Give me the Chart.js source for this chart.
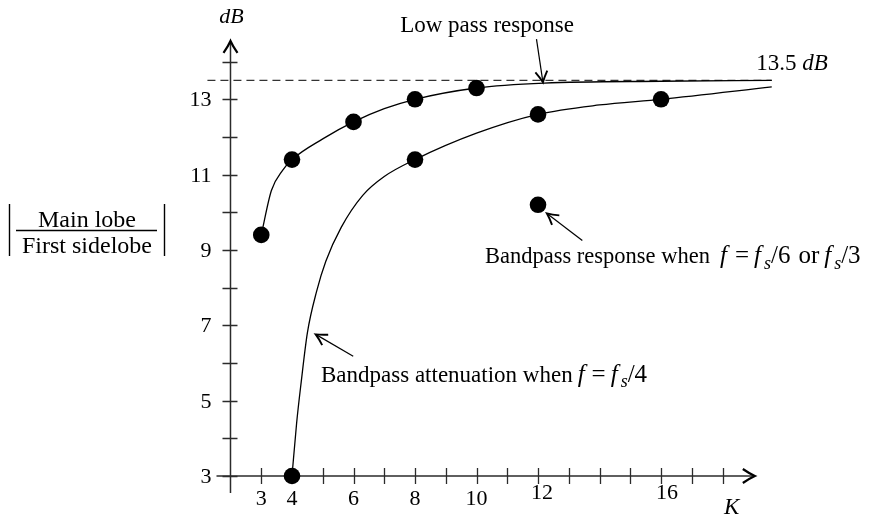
<!DOCTYPE html>
<html>
<head>
<meta charset="utf-8">
<script src="https://cdn.jsdelivr.net/npm/chart.js@4.4.1/dist/chart.umd.min.js"></script>
<style>
  html, body { margin: 0; padding: 0; background: #ffffff; }
  #wrap { width: 872px; height: 524px; position: relative; }
</style>
</head>
<body>
<div id="wrap"><canvas id="chart"></canvas></div>
<script>
// Measured ratios |main lobe / first sidelobe| (dB) against K
const lowPassK = [3, 4, 6, 8, 10];
const lowPassDb = [9.4, 11.4, 12.4, 13.0, 13.3];

const bpQuarterK = [4, 8, 12, 16];          // bandpass, f = fs/4
const bpQuarterDb = [3.0, 11.4, 12.6, 13.0];

const bpSixthK = [12];                      // bandpass, f = fs/6 or fs/3
const bpSixthDb = [10.2];

// Smooth trend curves through the measurements
const lowPassCurveK = [3, 3.33, 3.7, 4, 5, 6, 7, 8, 10, 12.2, 16, 19.6];
const lowPassCurveDb = [9.4, 10.58, 11.12, 11.4, 11.95, 12.4, 12.75, 13.0, 13.3, 13.43, 13.48, 13.5];

const bpCurveK = [4, 4.15, 4.3, 4.5, 4.8, 5.1, 5.6, 6.3, 7, 8, 10, 12, 14, 16, 19.6];
const bpCurveDb = [3.0, 4.4, 5.5, 6.8, 7.9, 8.7, 9.6, 10.45, 10.95, 11.4, 12.1, 12.6, 12.85, 13.0, 13.33];

// Asymptotic low pass limit
const refLevelDb = 13.5;
const refLineK = [1.25, 19.6];

// Axis ticks
const xTicks = [3, 4, 5, 6, 7, 8, 9, 10, 11, 12, 13, 14, 15, 16, 17, 18];
const xTickLabels = [3, 4, 6, 8, 10, 12, 16];
const yTicks = [3, 4, 5, 6, 7, 8, 9, 10, 11, 12, 13, 14];
const yTickLabels = [3, 5, 7, 9, 11, 13];

const SERIF = '"Liberation Serif", "Times New Roman", serif';
const INK = '#000000';
const AXIS_INK = '#2b2b2b';

const pts = (xs, ys) => xs.map((x, i) => ({ x: x, y: ys[i] }));

// Draws a run of text made of pieces with their own style
// (italic, subscript, own size) and fixed gaps between them
function richText(ctx, parts, x, y, size, align) {
  const items = parts.map(p => {
    if (p.gap !== undefined) return { p: p, w: p.gap };
    const base = p.size || size;
    const s = p.sub ? Math.round(base * 0.72) : base;
    const font = (p.i ? 'italic ' : '') + s + 'px ' + SERIF;
    ctx.font = font;
    return { p: p, font: font, w: ctx.measureText(p.t).width, base: base };
  });
  const total = items.reduce((a, b) => a + b.w, 0);
  let cx = align === 'center' ? x - total / 2 : (align === 'right' ? x - total : x);
  ctx.textAlign = 'left';
  ctx.textBaseline = 'alphabetic';
  items.forEach(it => {
    if (it.font) {
      ctx.font = it.font;
      ctx.fillText(it.p.t, cx, y + (it.p.sub ? it.base * 0.22 : 0));
    }
    cx += it.w;
  });
}

// Open chevron arrowhead at (x, y) pointing along angle a
function chevron(ctx, x, y, a, len, half, lw) {
  ctx.save();
  ctx.translate(x, y);
  ctx.rotate(a);
  ctx.lineWidth = lw;
  ctx.lineJoin = 'miter';
  ctx.beginPath();
  ctx.moveTo(-len, -half);
  ctx.quadraticCurveTo(-len * 0.45, -half * 0.35, 0, 0);
  ctx.quadraticCurveTo(-len * 0.45, half * 0.35, -len, half);
  ctx.stroke();
  ctx.restore();
}

function arrow(ctx, x1, y1, x2, y2) {
  ctx.save();
  ctx.strokeStyle = INK;
  ctx.lineWidth = 1.2;
  ctx.beginPath();
  ctx.moveTo(x1, y1);
  ctx.lineTo(x2, y2);
  ctx.stroke();
  chevron(ctx, x2, y2, Math.atan2(y2 - y1, x2 - x1), 11, 6, 1.9);
  ctx.restore();
}

// Axes crossing at K = 2, 3 dB, with crossing tick marks and arrow tips
const axesPlugin = {
  id: 'crossAxes',
  beforeDatasetsDraw(chart) {
    const ctx = chart.ctx;
    const xs = chart.scales.x, ys = chart.scales.y;
    const ax = xs.getPixelForValue(2);
    const ay = ys.getPixelForValue(3);
    const xEnd = xs.getPixelForValue(19.05);
    const yTop = ys.getPixelForValue(14.55);
    ctx.save();
    ctx.strokeStyle = AXIS_INK;
    ctx.lineWidth = 1.5;
    ctx.beginPath();
    ctx.moveTo(ax, ay + 17);
    ctx.lineTo(ax, yTop + 2);
    ctx.moveTo(ax - 14, ay);
    ctx.lineTo(xEnd - 2, ay);
    ctx.stroke();
    ctx.lineWidth = 1.3;
    ctx.beginPath();
    yTicks.forEach(v => {
      const py = Math.round(ys.getPixelForValue(v)) + 0.5;
      ctx.moveTo(ax - 8, py);
      ctx.lineTo(ax + 7, py);
    });
    xTicks.forEach(k => {
      const px = Math.round(xs.getPixelForValue(k)) + 0.5;
      ctx.moveTo(px, ay - 8);
      ctx.lineTo(px, ay + 8);
    });
    ctx.stroke();
    ctx.strokeStyle = INK;
    chevron(ctx, ax, yTop, -Math.PI / 2, 12, 7, 2.2);
    chevron(ctx, xEnd, ay, 0, 12, 7, 2.2);

    ctx.fillStyle = INK;
    ctx.font = '22px ' + SERIF;
    ctx.textAlign = 'right';
    ctx.textBaseline = 'alphabetic';
    yTickLabels.forEach(v => {
      ctx.fillText(String(v), ax - 19, ys.getPixelForValue(v) + 7);
    });
    ctx.textAlign = 'center';
    xTickLabels.forEach(k => {
      const lift = k >= 12 ? 6 : 0;
      const nudge = k === 12 ? 4 : (k === 16 ? 6 : 0);
      ctx.fillText(String(k), xs.getPixelForValue(k) + nudge, ay + 29 - lift);
    });
    ctx.restore();
  },
  afterDatasetsDraw(chart) {
    const ctx = chart.ctx;
    const xs = chart.scales.x, ys = chart.scales.y;
    const X = k => xs.getPixelForValue(k);
    const Y = v => ys.getPixelForValue(v);
    const ax = X(2), ay = Y(3);
    ctx.save();
    ctx.fillStyle = INK;

    // axis names
    richText(ctx, [{ t: 'dB', i: true }], ax + 1, 23, 22, 'center');
    richText(ctx, [{ t: 'K', i: true }], X(18.3), ay + 38, 23, 'center');

    // y axis quantity: |Main lobe / First sidelobe|
    richText(ctx, [{ t: 'Main lobe' }], 87, 226.5, 24, 'center');
    richText(ctx, [{ t: 'First sidelobe' }], 87, 253, 24, 'center');
    ctx.strokeStyle = INK;
    ctx.lineWidth = 1.4;
    ctx.beginPath();
    ctx.moveTo(16, 230.5); ctx.lineTo(157, 230.5);
    ctx.moveTo(9.5, 204); ctx.lineTo(9.5, 256);
    ctx.moveTo(164.5, 204); ctx.lineTo(164.5, 256);
    ctx.stroke();

    // limit label
    richText(ctx, [{ t: '13.5 ' }, { t: 'dB', i: true }], X(19.1), 70, 23, 'left');

    // annotations
    richText(ctx, [{ t: 'Low pass response' }], 487, 31.5, 23, 'center');
    arrow(ctx, X(11.95), Y(14.6), X(12.16), Y(13.45));

    richText(ctx, [
      { t: 'Bandpass attenuation when' }, { gap: 5 },
      { t: 'f', i: true, size: 25 }, { gap: 7 }, { t: '=', size: 25 }, { gap: 5 },
      { t: 'f', i: true, size: 25 }, { gap: 3 }, { t: 's', i: true, sub: true, size: 25 },
      { t: '/4', size: 25 }
    ], 321, 381.5, 23, 'left');
    arrow(ctx, X(5.99), Y(6.18), X(4.77), Y(6.76));

    richText(ctx, [
      { t: 'Bandpass response when' }, { gap: 10 },
      { t: 'f', i: true, size: 25 }, { gap: 8 }, { t: '=', size: 25 }, { gap: 5 },
      { t: 'f', i: true, size: 25 }, { gap: 3 }, { t: 's', i: true, sub: true, size: 25 },
      { t: '/6', size: 25 }, { gap: 8 }, { t: 'or', size: 25 }, { gap: 5 },
      { t: 'f', i: true, size: 25 }, { gap: 3 }, { t: 's', i: true, sub: true, size: 25 },
      { t: '/3', size: 25 }
    ], 485, 263, 22.5, 'left');
    arrow(ctx, X(13.44), Y(9.25), X(12.29), Y(9.97));

    ctx.restore();
  }
};

const dotStyle = {
  showLine: false,
  pointRadius: 8.3,
  pointHoverRadius: 8.3,
  pointBackgroundColor: INK,
  pointBorderColor: INK,
  pointBorderWidth: 0,
  order: 0
};
const curveStyle = {
  showLine: true,
  pointRadius: 0,
  borderColor: INK,
  borderWidth: 1.3,
  cubicInterpolationMode: 'monotone',
  fill: false,
  order: 1
};

new Chart(document.getElementById('chart'), {
  type: 'scatter',
  data: {
    datasets: [
      Object.assign({ label: 'Low pass response', data: pts(lowPassK, lowPassDb) }, dotStyle),
      Object.assign({ label: 'Bandpass f = fs/4', data: pts(bpQuarterK, bpQuarterDb) }, dotStyle),
      Object.assign({ label: 'Bandpass f = fs/6 or fs/3', data: pts(bpSixthK, bpSixthDb) }, dotStyle),
      Object.assign({ label: 'Low pass trend', data: pts(lowPassCurveK, lowPassCurveDb) }, curveStyle),
      Object.assign({ label: 'Bandpass trend', data: pts(bpCurveK, bpCurveDb) }, curveStyle),
      {
        label: '13.5 dB limit',
        data: refLineK.map(k => ({ x: k, y: refLevelDb })),
        showLine: true,
        pointRadius: 0,
        borderColor: '#333333',
        borderWidth: 1.2,
        borderDash: [8, 5],
        order: 2
      }
    ]
  },
  options: {
    responsive: true,
    maintainAspectRatio: false,
    animation: false,
    devicePixelRatio: 1,
    layout: { padding: 0 },
    plugins: { legend: { display: false }, tooltip: { enabled: false } },
    events: [],
    scales: {
      x: { type: 'linear', display: false, min: -5.225, max: 22.59 },
      y: { type: 'linear', display: false, min: 1.946, max: 15.416 }
    }
  },
  plugins: [axesPlugin]
});
</script>
</body>
</html>
